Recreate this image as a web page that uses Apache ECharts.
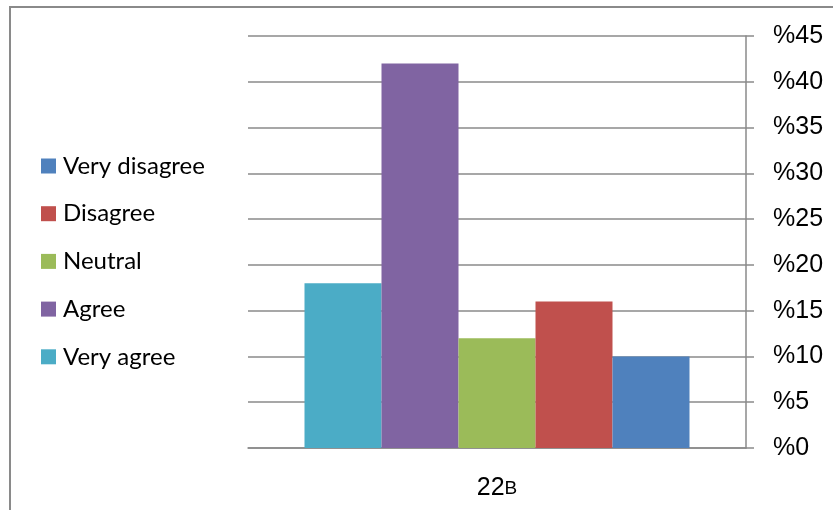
<!DOCTYPE html>
<html>
<head>
<meta charset="utf-8">
<script src="https://cdn.jsdelivr.net/npm/echarts@6/dist/echarts.min.js"></script>
<style>
  html, body { margin: 0; padding: 0; background: #fff; }
  #wrap { position: relative; width: 833px; height: 510px; }
  #frame { position: absolute; left: 9px; top: 6px; right: 0; bottom: 0;
           border-left: 2px solid #8a8a8a; border-top: 2px solid #8a8a8a; }
  #chart { position: absolute; left: 0; top: 0; width: 833px; height: 510px; }
</style>
</head>
<body>
<div id="wrap">
  <div id="frame"></div>
  <div id="chart"></div>
</div>
<script>
// data
const categories = ['22B']
const seriesNames = ['Very agree', 'Agree', 'Neutral', 'Disagree', 'Very disagree']
const seriesValues = [18, 42, 12, 16, 10]
const seriesColors = ['#4BACC6', '#8064A2', '#9BBB59', '#C0504D', '#4F81BD']
const legendOrder = ['Very disagree', 'Disagree', 'Neutral', 'Agree', 'Very agree']
const yTicks = [0, 5, 10, 15, 20, 25, 30, 35, 40, 45]

const lineColor = '#8a8a8a'

const myChart = echarts.init(document.getElementById('chart'))
myChart.setOption({
    animation: false,
    legend: {
        orient: 'vertical',
        left: 36,
        top: 149,
        itemWidth: 15,
        itemHeight: 15,
        itemGap: 23.7,
        icon: 'rect',
        data: legendOrder,
        textStyle: {
            fontFamily: 'Lato',
            fontSize: 24,
            color: '#000',
            padding: [0, 0, 0, 2]
        }
    },
    grid: {
        left: 248,
        right: 87,
        top: 36,
        bottom: 62
    },
    xAxis: {
        type: 'category',
        data: categories,
        axisLine: { lineStyle: { color: lineColor, width: 1.5 } },
        axisTick: { length: 8, lineStyle: { color: lineColor, width: 1.5 } },
        axisLabel: {
            margin: 28,
            formatter: v => '{a|' + v.slice(0, 2) + '}{b|' + v.slice(2) + '}',
            rich: {
                a: { fontFamily: 'Liberation Sans', fontSize: 25, color: '#000' },
                b: { fontFamily: 'Liberation Sans', fontSize: 19, color: '#000', verticalAlign: 'bottom', padding: [0, 0, 3, 0] }
            }
        }
    },
    yAxis: {
        type: 'value',
        position: 'right',
        min: yTicks[0],
        max: yTicks[yTicks.length - 1],
        interval: 5,
        axisLine: { show: true, lineStyle: { color: lineColor, width: 1.5 } },
        axisTick: { show: true, length: 8, lineStyle: { color: lineColor, width: 1.5 } },
        splitLine: { lineStyle: { color: lineColor, width: 1.5 } },
        axisLabel: {
            margin: 27,
            formatter: v => '%' + v,
            fontFamily: 'Liberation Sans',
            fontSize: 25,
            color: '#000'
        }
    },
    series: seriesNames.map((name, i) => ({
        name: name,
        type: 'bar',
        barWidth: 77,
        barGap: '0%',
        itemStyle: { color: seriesColors[i] },
        data: [seriesValues[i]]
    }))
})
window.addEventListener('resize', () => {
    myChart.resize()
})
</script>
</body>
</html>
